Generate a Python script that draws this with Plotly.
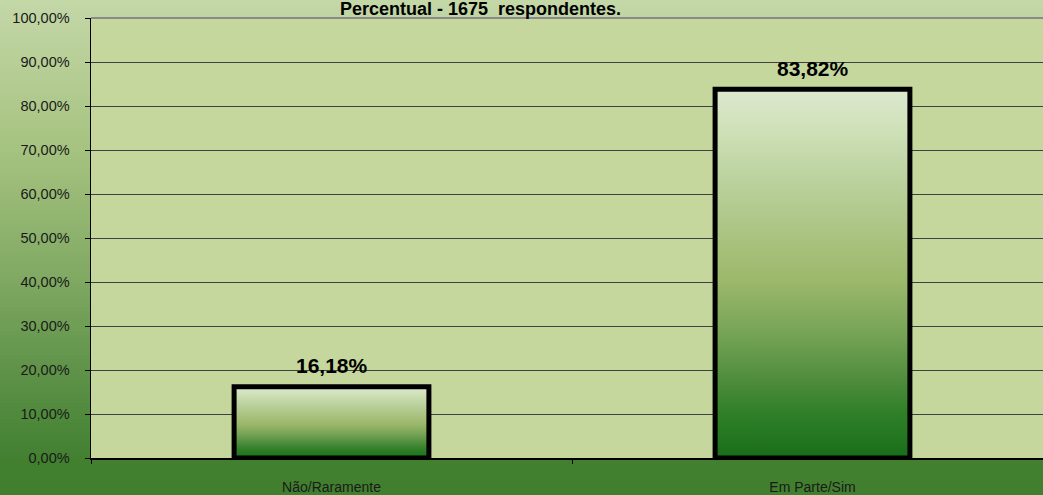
import plotly.graph_objects as go

# ---- data ----
categories = ["Não/Raramente", "Em Parte/Sim"]
percent_values = [0.1618, 0.8382]
y_tick_values = [0, 0.1, 0.2, 0.3, 0.4, 0.5, 0.6, 0.7, 0.8, 0.9, 1.0]
title_text = "Percentual - 1675\u00a0 respondentes."

# ---- style ----
FONT = "Arial, Liberation Sans, sans-serif"
W, H = 1043, 495
ML, MR, MT, MB = 91, 0, 18, 37
BAR_WIDTH = 0.405
X_RANGE = [-0.5, -0.5 + (W - ML - MR) / 481.0]

paper_stops = [(0.0, (196, 215, 168)), (0.3, (166, 195, 128)), (0.55, (130, 170, 100)),
               (0.8, (86, 141, 66)), (0.93, (66, 128, 48)), (1.0, (64, 127, 46))]
bar_scale = [[0.0, "#1a6e19"], [0.12, "#2f7f28"], [0.21, "#4e8c3c"], [0.34, "#77a457"],
             [0.48, "#9cb86b"], [0.62, "#acc584"], [0.76, "#bcd29f"], [0.88, "#cde0b6"],
             [1.0, "#dde9d0"]]


def lerp_color(stops, t):
    for (t0, c0), (t1, c1) in zip(stops[:-1], stops[1:]):
        if t0 <= t <= t1:
            f = (t - t0) / (t1 - t0) if t1 > t0 else 0
            c = [round(a + (b - a) * f) for a, b in zip(c0, c1)]
            return f"rgb({c[0]},{c[1]},{c[2]})"
    c = stops[-1][1]
    return f"rgb({c[0]},{c[1]},{c[2]})"


fig = go.Figure()

# bars as filled polygons with vertical gradient (positions from data + axis scale)
for i, (cat, v) in enumerate(zip(categories, percent_values)):
    x0, x1 = i - BAR_WIDTH / 2, i + BAR_WIDTH / 2
    fig.add_trace(go.Scatter(
        x=[x0, x0, x1, x1, x0], y=[0, v, v, 0, 0],
        mode="lines", fill="toself",
        fillgradient=dict(type="vertical", colorscale=bar_scale),
        line=dict(color="black", width=5), name=cat,
        showlegend=False, hoverinfo="skip",
    ))
    fig.add_annotation(
        x=i, y=v, xref="x", yref="y",
        text="<b>" + f"{v * 100:.2f}%".replace(".", ",") + "</b>",
        showarrow=False, yanchor="middle", yshift=21,
        font=dict(family=FONT, size=21, color="black"),
    )

# background: paper gradient (bands) and plot area fill
shapes = []
N = 124
y_lo = -MB / (H - MT - MB)
y_hi = 1 + MT / (H - MT - MB)
x_lo = -ML / (W - ML - MR)
for k in range(N):
    t0 = k / N
    t1 = (k + 1) / N
    shapes.append(dict(
        type="rect", xref="paper", yref="paper", layer="below",
        x0=x_lo, x1=1.01,
        y0=y_hi - (y_hi - y_lo) * t1 - 0.002, y1=y_hi - (y_hi - y_lo) * t0,
        fillcolor=lerp_color(paper_stops, (t0 + t1) / 2), line=dict(width=0),
    ))
shapes.append(dict(type="rect", xref="paper", yref="paper", layer="below",
                   x0=0, x1=1.01, y0=0, y1=1, fillcolor="#c5d79d", line=dict(width=0)))
shapes.append(dict(type="line", xref="paper", yref="paper", layer="above",
                   x0=0, x1=1.01, y0=1, y1=1, line=dict(color="#8a8a8a", width=2)))
fig.update_layout(shapes=shapes)

fig.add_annotation(
    x=(480 - ML) / (W - ML - MR), y=1, xref="paper", yref="paper",
    text="<b>" + title_text + "</b>", showarrow=False,
    xanchor="center", yanchor="middle", yshift=9,
    font=dict(family=FONT, size=18, color="black"),
)

fig.update_layout(
    width=W, height=H,
    margin=dict(l=ML, r=MR, t=MT, b=MB, pad=0),
    paper_bgcolor="#41802f", plot_bgcolor="rgba(0,0,0,0)",
    separators=",.",
    showlegend=False,
    font=dict(family=FONT, color="#1a1a1a"),
)
fig.update_xaxes(
    range=X_RANGE, tickmode="array", tickvals=list(range(len(categories))),
    ticktext=categories, ticks="", showgrid=False, zeroline=False,
    showline=True, linecolor="black", linewidth=1.5,
    tickfont=dict(family=FONT, size=14, color="#1a1a1a"),
    ticklabelstandoff=16, automargin=False,
    minor=dict(tickmode="linear", tick0=-0.5, dtick=1, ticks="outside",
               ticklen=4, tickcolor="black", tickwidth=1, showgrid=False),
    fixedrange=True,
)
fig.update_yaxes(
    range=[0, 1], tickmode="array", tickvals=y_tick_values, tickformat=".2%",
    ticks="outside", ticklen=5, tickcolor="black", tickwidth=1,
    showgrid=True, gridcolor="#404040", gridwidth=1, zeroline=False,
    showline=True, linecolor="black", linewidth=1.5,
    tickfont=dict(family=FONT, size=14.5, color="#1a1a1a"),
    ticklabelstandoff=12, automargin=False, fixedrange=True,
)

fig.write_html(
    "out.html",
    config={"displayModeBar": False, "staticPlot": True},
    post_script="document.body.style.margin='0';document.body.style.overflow='hidden';",
)
